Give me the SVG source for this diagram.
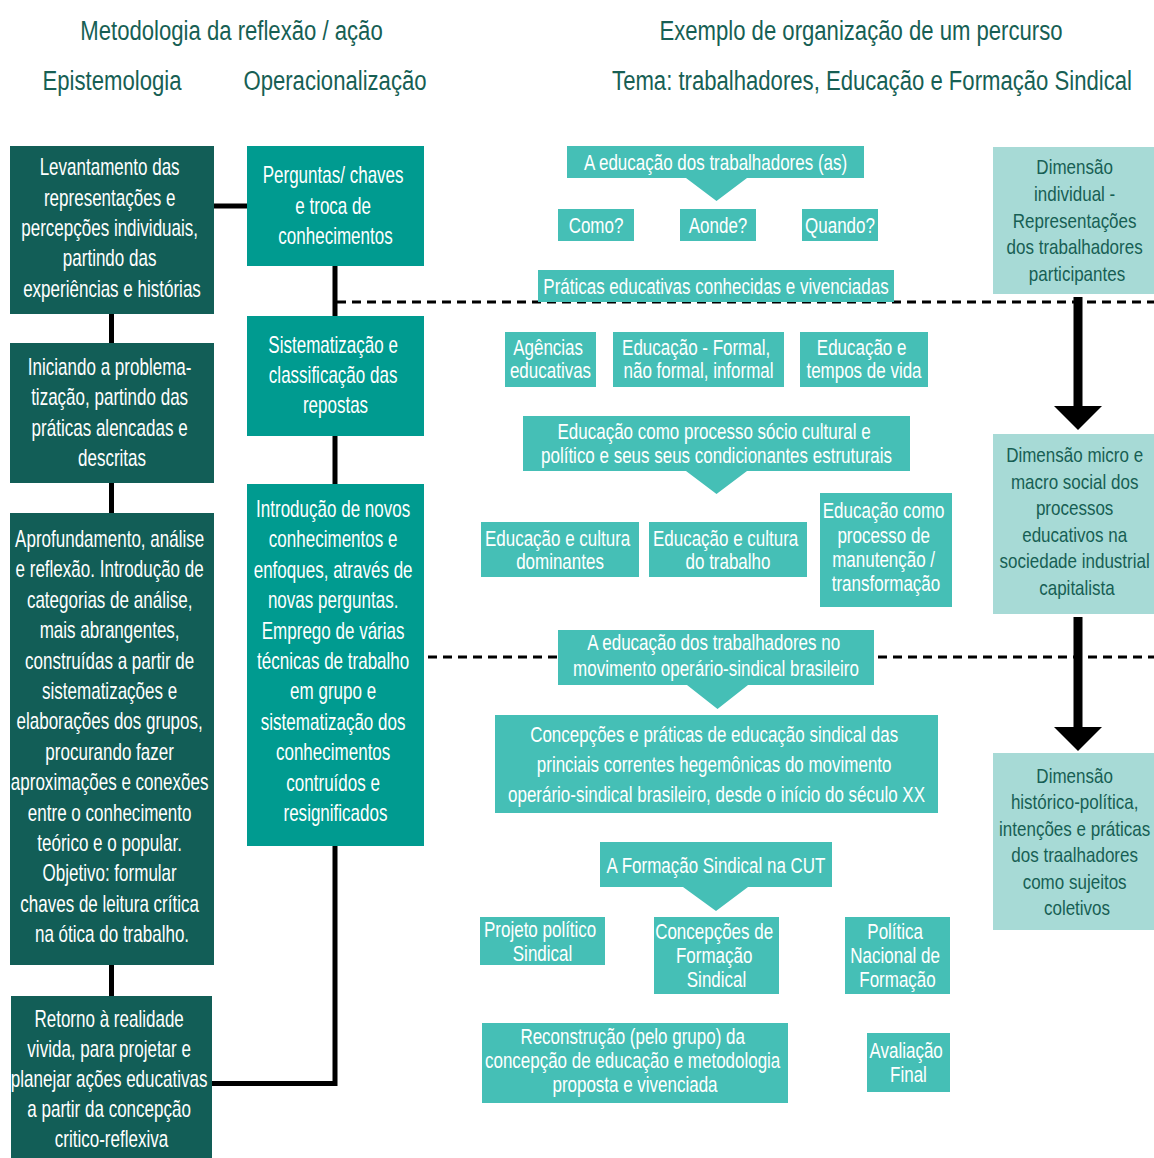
<svg xmlns="http://www.w3.org/2000/svg" width="1154" height="1158" viewBox="0 0 1154 1158">
<style>
  text { font-family: "Liberation Sans", Arial, sans-serif; text-anchor: middle; }
  .hdr { font-size: 28px; fill: #175f54; }
  .dk rect { fill: #125e57; }
  .md rect { fill: #009b90; }
  .lt rect, .lt path { fill: #45bfb6; }
  .rt rect { fill: #a7dad6; }
  .dk text, .md text { font-size: 23px; fill: #ffffff; }
  .lt text { font-size: 21.5px; fill: #ffffff; }
  .rt text { font-size: 21px; fill: #175f54; }
  .solid { stroke: #000; stroke-width: 5; fill: none; }
  .dash { stroke: #000; stroke-width: 3; stroke-dasharray: 9 6; fill: none; }
  .big { stroke: #000; stroke-width: 9; fill: none; }
</style>
<defs>
  <marker id="head" viewBox="0 -24 24 48" markerWidth="24" markerHeight="48" refX="0" refY="0" orient="auto" markerUnits="userSpaceOnUse">
    <path d="M0,-24 L24,0 L0,24 Z" fill="#000"/>
  </marker>
</defs>
<rect width="1154" height="1158" fill="#fff"/>

<g id="headers">
  <text class="hdr" transform="translate(231.5 0) scale(0.79 1)" x="0" y="40">Metodologia da reflexão / ação</text>
  <text class="hdr" transform="translate(112 0) scale(0.79 1)" x="0" y="90">Epistemologia</text>
  <text class="hdr" transform="translate(335 0) scale(0.79 1)" x="0" y="90">Operacionalização</text>
  <text class="hdr" transform="translate(861 0) scale(0.79 1)" x="0" y="40">Exemplo de organização de um percurso</text>
  <text class="hdr" transform="translate(872 0) scale(0.79 1)" x="0" y="90">Tema: trabalhadores, Educação e Formação Sindical</text>
</g>

<g id="connectors">
  <path class="solid" d="M111.5,312 V345 M111.5,481 V515 M111.5,963 V998"/>
  <path class="solid" d="M212,206 H249"/>
  <path class="solid" d="M335,264 V318 M335,434 V486 M335,844 V1083.5 H210"/>
  <path class="dash" d="M337,302 H1154"/>
  <path class="dash" d="M428,657 H1154"/>
  <path class="big" d="M1078,297 V406" marker-end="url(#head)"/>
  <path class="big" d="M1078,617 V727" marker-end="url(#head)"/>
</g>

<g id="n-levantamento" class="dk">
  <rect x="10" y="146" width="204" height="168"/>
  <text transform="translate(112 0) scale(0.74 1)">
    <tspan x="0" y="175">Levantamento das</tspan>
    <tspan x="0" y="206">representações e</tspan>
    <tspan x="0" y="236">percepções individuais,</tspan>
    <tspan x="0" y="266">partindo das</tspan>
    <tspan x="0" y="297">experiências e histórias</tspan>
  </text>
</g>
<g id="n-iniciando" class="dk">
  <rect x="10" y="343" width="204" height="140"/>
  <text transform="translate(112 0) scale(0.74 1)">
    <tspan x="0" y="375">Iniciando a problema-</tspan>
    <tspan x="0" y="405">tização, partindo das</tspan>
    <tspan x="0" y="436">práticas alencadas e</tspan>
    <tspan x="0" y="466">descritas</tspan>
  </text>
</g>
<g id="n-aprofundamento" class="dk">
  <rect x="10" y="513" width="204" height="452"/>
  <text transform="translate(112 0) scale(0.74 1)">
    <tspan x="0" y="547">Aprofundamento, análise</tspan>
    <tspan x="0" y="577.4">e reflexão. Introdução de</tspan>
    <tspan x="0" y="607.8">categorias de análise,</tspan>
    <tspan x="0" y="638.2">mais abrangentes,</tspan>
    <tspan x="0" y="668.6">construídas a partir de</tspan>
    <tspan x="0" y="699">sistematizações e</tspan>
    <tspan x="0" y="729.4">elaborações dos grupos,</tspan>
    <tspan x="0" y="759.8">procurando fazer</tspan>
    <tspan x="0" y="790.2">aproximações e conexões</tspan>
    <tspan x="0" y="820.6">entre o conhecimento</tspan>
    <tspan x="0" y="851">teórico e o popular.</tspan>
    <tspan x="0" y="881.4">Objetivo: formular</tspan>
    <tspan x="0" y="911.8">chaves de leitura crítica</tspan>
    <tspan x="0" y="942.2">na ótica do trabalho.</tspan>
  </text>
</g>
<g id="n-retorno" class="dk">
  <rect x="11" y="996" width="201" height="162"/>
  <text transform="translate(111.5 0) scale(0.74 1)">
    <tspan x="0" y="1027">Retorno à realidade</tspan>
    <tspan x="0" y="1057">vivida, para projetar e</tspan>
    <tspan x="0" y="1087">planejar ações educativas</tspan>
    <tspan x="0" y="1117">a partir da concepção</tspan>
    <tspan x="0" y="1147">critico-reflexiva</tspan>
  </text>
</g>

<g id="n-perguntas" class="md">
  <rect x="247" y="146" width="177" height="120"/>
  <text transform="translate(335.5 0) scale(0.74 1)">
    <tspan x="0" y="183">Perguntas/ chaves</tspan>
    <tspan x="0" y="214">e troca de</tspan>
    <tspan x="0" y="244">conhecimentos</tspan>
  </text>
</g>
<g id="n-sistematizacao" class="md">
  <rect x="247" y="316" width="177" height="120"/>
  <text transform="translate(335.5 0) scale(0.74 1)">
    <tspan x="0" y="353">Sistematização e</tspan>
    <tspan x="0" y="383">classificação das</tspan>
    <tspan x="0" y="413">repostas</tspan>
  </text>
</g>
<g id="n-introducao" class="md">
  <rect x="247" y="484" width="177" height="362"/>
  <text transform="translate(335.5 0) scale(0.74 1)">
    <tspan x="0" y="517">Introdução de novos</tspan>
    <tspan x="0" y="547.4">conhecimentos e</tspan>
    <tspan x="0" y="577.8">enfoques, através de</tspan>
    <tspan x="0" y="608.2">novas perguntas.</tspan>
    <tspan x="0" y="638.6">Emprego de várias</tspan>
    <tspan x="0" y="669">técnicas de trabalho</tspan>
    <tspan x="0" y="699.4">em grupo e</tspan>
    <tspan x="0" y="729.8">sistematização dos</tspan>
    <tspan x="0" y="760.2">conhecimentos</tspan>
    <tspan x="0" y="790.6">contruídos e</tspan>
    <tspan x="0" y="821">resignificados</tspan>
  </text>
</g>

<g id="n-educacao-trab" class="lt">
  <path d="M567,146 H864 V178 H747 L716.5,201 L686,178 H567 Z"/>
  <text transform="translate(715.5 0) scale(0.79 1)" x="0" y="170.5">A educação dos trabalhadores (as)</text>
</g>
<g id="n-como" class="lt">
  <rect x="558" y="209" width="76" height="32"/>
  <text transform="translate(596 0) scale(0.79 1)" x="0" y="233.3">Como?</text>
</g>
<g id="n-aonde" class="lt">
  <rect x="680" y="209" width="76" height="32"/>
  <text transform="translate(718 0) scale(0.79 1)" x="0" y="233.3">Aonde?</text>
</g>
<g id="n-quando" class="lt">
  <rect x="802" y="209" width="76" height="32"/>
  <text transform="translate(840 0) scale(0.79 1)" x="0" y="233.3">Quando?</text>
</g>
<g id="n-praticas" class="lt">
  <rect x="538" y="270" width="356" height="32"/>
  <text transform="translate(716 0) scale(0.79 1)" x="0" y="294">Práticas educativas conhecidas e vivenciadas</text>
</g>
<g id="n-agencias" class="lt">
  <rect x="505" y="332" width="91" height="55"/>
  <text transform="translate(550.5 0) scale(0.79 1)">
    <tspan x="0" y="355">Agências</tspan>
    <tspan x="0" y="378.3">educativas</tspan>
  </text>
</g>
<g id="n-formal" class="lt">
  <rect x="613" y="332" width="171" height="55"/>
  <text transform="translate(698.5 0) scale(0.79 1)">
    <tspan x="0" y="355">Educação - Formal,</tspan>
    <tspan x="0" y="378.3">não formal, informal</tspan>
  </text>
</g>
<g id="n-tempos" class="lt">
  <rect x="800" y="332" width="128" height="55"/>
  <text transform="translate(864 0) scale(0.79 1)">
    <tspan x="0" y="355">Educação e</tspan>
    <tspan x="0" y="378.3">tempos de vida</tspan>
  </text>
</g>
<g id="n-sociocultural" class="lt">
  <path d="M523,416 H910 V471 H747 L716.5,494 L686,471 H523 Z"/>
  <text transform="translate(716.5 0) scale(0.79 1)">
    <tspan x="0" y="439.3">Educação como processo sócio cultural e</tspan>
    <tspan x="0" y="462.7">político e seus seus condicionantes estruturais</tspan>
  </text>
</g>
<g id="n-dominantes" class="lt">
  <rect x="481" y="522" width="158" height="55"/>
  <text transform="translate(560 0) scale(0.79 1)">
    <tspan x="0" y="545.7">Educação e cultura</tspan>
    <tspan x="0" y="569.3">dominantes</tspan>
  </text>
</g>
<g id="n-cultura-trabalho" class="lt">
  <rect x="649" y="522" width="158" height="55"/>
  <text transform="translate(728 0) scale(0.79 1)">
    <tspan x="0" y="545.7">Educação e cultura</tspan>
    <tspan x="0" y="569.3">do trabalho</tspan>
  </text>
</g>
<g id="n-manutencao" class="lt">
  <rect x="820" y="493" width="132" height="114"/>
  <text transform="translate(886 0) scale(0.79 1)">
    <tspan x="0" y="518.3">Educação como</tspan>
    <tspan x="0" y="542.7">processo de</tspan>
    <tspan x="0" y="566.7">manutenção /</tspan>
    <tspan x="0" y="590.7">transformação</tspan>
  </text>
</g>
<g id="n-movimento" class="lt">
  <path d="M558,630 H874 V685 H748 L717.5,709 L687,685 H558 Z"/>
  <text transform="translate(716 0) scale(0.79 1)">
    <tspan x="0" y="650">A educação dos trabalhadores no</tspan>
    <tspan x="0" y="676">movimento operário-sindical brasileiro</tspan>
  </text>
</g>
<g id="n-concepcoes" class="lt">
  <rect x="495" y="715" width="443" height="98"/>
  <text transform="translate(716.5 0) scale(0.79 1)">
    <tspan x="0" y="741.7">Concepções e práticas de educação sindical das</tspan>
    <tspan x="0" y="771.7">princiais correntes hegemônicas do movimento</tspan>
    <tspan x="0" y="801.7">operário-sindical brasileiro, desde o início do século XX</tspan>
  </text>
</g>
<g id="n-cut" class="lt">
  <path d="M600,842 H832 V887 H748 L716,911 L683,887 H600 Z"/>
  <text transform="translate(716 0) scale(0.79 1)" x="0" y="872.7">A Formação Sindical na CUT</text>
</g>
<g id="n-projeto" class="lt">
  <rect x="480" y="917" width="125" height="48"/>
  <text transform="translate(542.5 0) scale(0.79 1)">
    <tspan x="0" y="937.3">Projeto político</tspan>
    <tspan x="0" y="960.7">Sindical</tspan>
  </text>
</g>
<g id="n-concepcoes-formacao" class="lt">
  <rect x="654" y="917" width="125" height="77"/>
  <text transform="translate(716.5 0) scale(0.79 1)">
    <tspan x="0" y="939.3">Concepções de</tspan>
    <tspan x="0" y="963.3">Formação</tspan>
    <tspan x="0" y="986.7">Sindical</tspan>
  </text>
</g>
<g id="n-politica" class="lt">
  <rect x="845" y="917" width="105" height="77"/>
  <text transform="translate(897.5 0) scale(0.79 1)">
    <tspan x="0" y="939.3">Política</tspan>
    <tspan x="0" y="963.3">Nacional de</tspan>
    <tspan x="0" y="986.7">Formação</tspan>
  </text>
</g>
<g id="n-reconstrucao" class="lt">
  <rect x="482" y="1023" width="306" height="80"/>
  <text transform="translate(635 0) scale(0.79 1)">
    <tspan x="0" y="1044.3">Reconstrução (pelo grupo) da</tspan>
    <tspan x="0" y="1068.3">concepção de educação e metodologia</tspan>
    <tspan x="0" y="1091.7">proposta e vivenciada</tspan>
  </text>
</g>
<g id="n-avaliacao" class="lt">
  <rect x="867" y="1033" width="83" height="59"/>
  <text transform="translate(908.5 0) scale(0.79 1)">
    <tspan x="0" y="1058.3">Avaliação</tspan>
    <tspan x="0" y="1081.7">Final</tspan>
  </text>
</g>

<g id="n-dim-individual" class="rt">
  <rect x="993" y="147" width="168" height="147"/>
  <text transform="translate(1077 0) scale(0.81 1)">
    <tspan x="0" y="174.5">Dimensão</tspan>
    <tspan x="0" y="201.1">individual -</tspan>
    <tspan x="0" y="227.7">Representações</tspan>
    <tspan x="0" y="254.3">dos trabalhadores</tspan>
    <tspan x="0" y="280.9">participantes</tspan>
  </text>
</g>
<g id="n-dim-micro" class="rt">
  <rect x="993" y="434" width="168" height="180"/>
  <text transform="translate(1077 0) scale(0.81 1)">
    <tspan x="0" y="462">Dimensão micro e</tspan>
    <tspan x="0" y="488.6">macro social dos</tspan>
    <tspan x="0" y="515.2">processos</tspan>
    <tspan x="0" y="541.8">educativos na</tspan>
    <tspan x="0" y="568.4">sociedade industrial</tspan>
    <tspan x="0" y="595">capitalista</tspan>
  </text>
</g>
<g id="n-dim-historico" class="rt">
  <rect x="993" y="753" width="168" height="177"/>
  <text transform="translate(1077 0) scale(0.81 1)">
    <tspan x="0" y="783">Dimensão</tspan>
    <tspan x="0" y="809.5">histórico-política,</tspan>
    <tspan x="0" y="836">intenções e práticas</tspan>
    <tspan x="0" y="862.5">dos traalhadores</tspan>
    <tspan x="0" y="889">como sujeitos</tspan>
    <tspan x="0" y="915.5">coletivos</tspan>
  </text>
</g>
</svg>
